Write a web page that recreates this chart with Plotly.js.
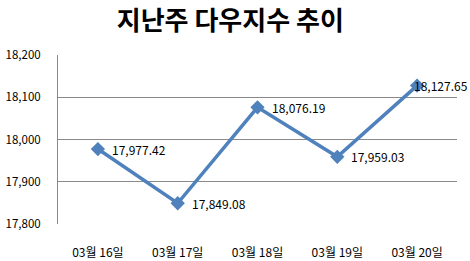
<!DOCTYPE html>
<html><head><meta charset="utf-8">
<script src="https://cdn.plot.ly/plotly-3.0.1.min.js"></script>
<style>html,body{margin:0;padding:0;background:#fff}#c{width:470px;height:261px}</style>
</head><body><div id="c"></div>
<script>
const categories = ["03월 16일","03월 17일","03월 18일","03월 19일","03월 20일"];
const values = [17977.42, 17849.08, 18076.19, 17959.03, 18127.65];
const tickVals = [17800, 17900, 18000, 18100, 18200];
const tickText = ["17,800","17,900","18,000","18,100","18,200"];
const labels = values.map(v => v.toLocaleString('en-US',{minimumFractionDigits:2, maximumFractionDigits:2}));
const font = "'Noto Sans CJK KR', 'Noto Sans', sans-serif";
const annotations = categories.map((c, i) => ({
  x: c, y: values[i], xref: 'x', yref: 'y', text: labels[i], showarrow: false,
  xanchor: 'left', yanchor: 'middle', xshift: i === categories.length - 1 ? -5 : 12, yshift: 0,
  font: {family: font, size: 12, color: '#000'}
}));
Plotly.newPlot('c', [{
  x: categories, y: values, type: 'scatter', mode: 'lines+markers',
  line: {color: '#4F81BD', width: 3.5},
  marker: {symbol: 'diamond', size: 11, color: '#4F81BD'},
  cliponaxis: false
}], {
  width: 470, height: 261,
  margin: {l: 58, r: 13, t: 55, b: 37},
  paper_bgcolor: '#fff', plot_bgcolor: '#fff',
  showlegend: false,
  annotations: annotations,
  title: {text: '<b>지난주 다우지수 추이</b>', font: {family: font, size: 26, color: '#000'}, x: 0.49, xanchor: 'center', y: 0.92, yanchor: 'middle'},
  xaxis: {type: 'category', range: [-0.5, 4.5], showgrid: false, showline: false, zeroline: false, ticks: '',
    tickfont: {family: font, size: 12, color: '#000'}, ticklabelstandoff: 20},
  yaxis: {range: [17800, 18200], tickvals: tickVals, ticktext: tickText, showgrid: true, gridcolor: '#8a8a8a', gridwidth: 1,
    showline: true, linecolor: '#8a8a8a', linewidth: 1, zeroline: false, ticks: '',
    tickfont: {family: font, size: 11.5, color: '#000'}, ticklabelstandoff: 14}
}, {displayModeBar: false, staticPlot: true});
</script></body></html>
